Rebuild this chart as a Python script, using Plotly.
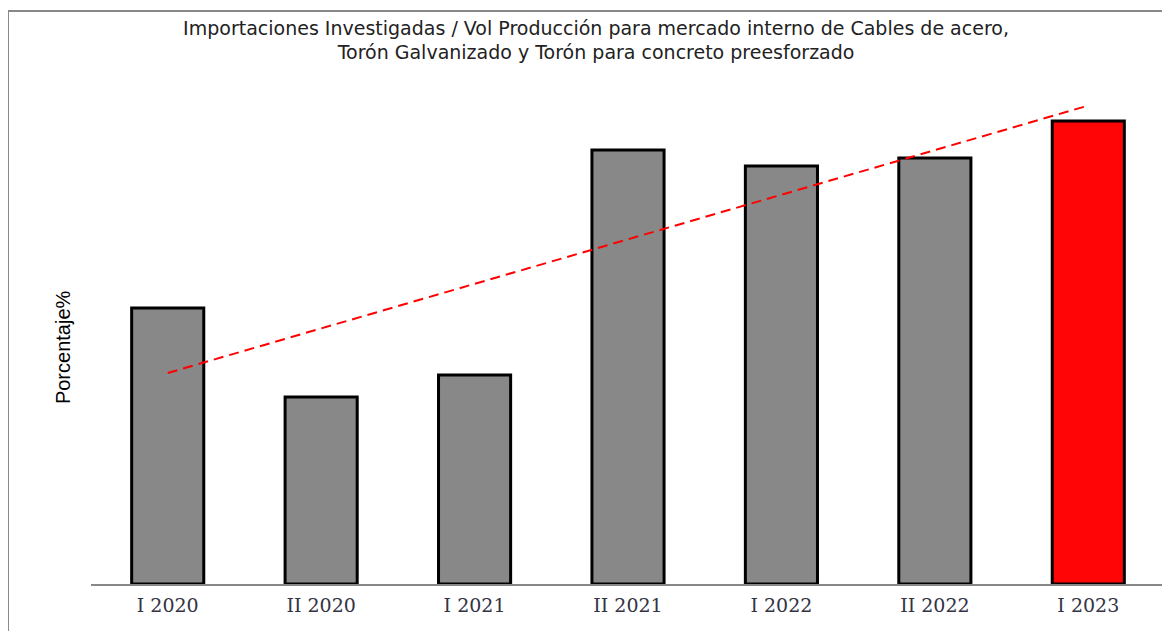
import numpy as np
import plotly.graph_objects as go

# Periods and ratio values (no axis scale shown)
periods = ["I 2020", "II 2020", "I 2021", "II 2021", "I 2022", "II 2022", "I 2023"]
ratio = [27.6, 18.7, 20.9, 43.4, 41.8, 42.6, 46.3]
bar_colors = ["#888888"] * 6 + ["#ff0505"]

title_text = ("Importaciones Investigadas / Vol Producción para mercado interno de Cables de acero,"
              "<br>Torón Galvanizado y Torón para concreto preesforzado")
y_title = "Porcentaje%"

# Linear trend over the periods
idx = np.arange(len(periods))
slope, intercept = np.polyfit(idx, ratio, 1)
trend = intercept + slope * idx

fig = go.Figure()

fig.add_trace(go.Bar(
    x=periods, y=ratio,
    width=0.47,
    marker=dict(color=bar_colors, line=dict(color="#000000", width=3)),
    hoverinfo="x+y",
))

# Trend line from first to last bar centre
fig.add_trace(go.Scatter(
    x=[periods[0], periods[-1]], y=[trend[0], trend[-1]],
    mode="lines",
    line=dict(color="#ff0000", width=2, dash="10px,6px"),
    hoverinfo="skip",
))

fig.update_layout(
    width=1170, height=631,
    margin=dict(l=83, r=13, t=72, b=55),
    paper_bgcolor="white",
    plot_bgcolor="white",
    showlegend=False,
    title=dict(
        text=title_text,
        x=0.5026, xanchor="center", xref="container",
        y=0.958, yanchor="middle", yref="container",
        font=dict(family="DejaVu Sans", size=19, color="#222222"),
    ),
    annotations=[
        dict(text=y_title, xref="paper", yref="paper",
             x=-0.0382, y=0.47, showarrow=False, textangle=-90,
             font=dict(family="Liberation Sans", size=20, color="#000000")),
    ],
    shapes=[
        # frame lines at top and left of the picture
        dict(type="line", xref="paper", yref="paper",
             x0=-0.0773, x1=1.02, y0=1.1369, y1=1.1369,
             line=dict(color="#888888", width=2)),
        dict(type="line", xref="paper", yref="paper",
             x0=-0.0773, x1=-0.0773, y0=1.1369, y1=-0.2,
             line=dict(color="#888888", width=2)),
    ],
)

fig.update_xaxes(
    showline=True, linecolor="#888888", linewidth=1.5,
    showgrid=False, ticks="", ticklabelstandoff=3,
    tickfont=dict(family="DejaVu Serif", size=19, color="#333344"),
)
fig.update_yaxes(
    range=[0, 50.4], showticklabels=False, showgrid=False,
    zeroline=False, showline=False,
)

fig.write_html("out.html")
